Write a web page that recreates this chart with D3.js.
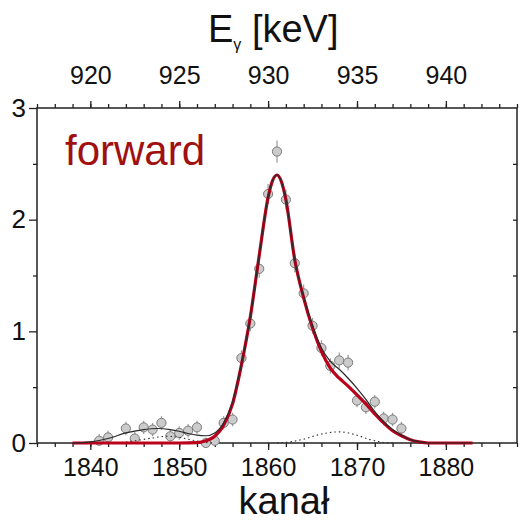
<!DOCTYPE html>
<html>
<head>
<meta charset="utf-8">
<script src="https://cdn.jsdelivr.net/npm/d3@7/dist/d3.min.js"></script>
<style>
  html, body { margin: 0; padding: 0; background: #fff; }
  svg { display: block; }
  text { font-family: "Liberation Sans", Arial, sans-serif; fill: #111; }
</style>
</head>
<body>
<svg id="chart" width="522" height="524"></svg>
<script>
// ---------- data ----------
const channels = [1841,1842,1844,1845,1846,1847,1848,1849,1850,1851,1852,1853,1854,1855,1856,1857,1858,1859,1860,1861,1862,1863,1864,1865,1866,1867,1868,1869,1870,1871,1872,1873,1874,1875];
const counts   = [0.02,0.05,0.13,0.04,0.14,0.12,0.18,0.06,0.09,0.11,0.14,0.00,0.02,0.18,0.21,0.76,1.07,1.56,2.23,2.61,2.18,1.61,1.34,1.05,0.85,0.69,0.74,0.72,0.38,0.32,0.37,0.22,0.21,0.13];
const errors   = [0.06,0.06,0.06,0.06,0.06,0.06,0.06,0.06,0.06,0.06,0.06,0.05,0.05,0.06,0.06,0.07,0.07,0.08,0.09,0.10,0.09,0.08,0.08,0.07,0.07,0.07,0.07,0.07,0.06,0.06,0.06,0.06,0.06,0.06];

// main peak fit (red)
const redX = [1838,1850,1852,1853,1854,1855,1856,1857,1858,1859,1860,1860.5,1861,1861.5,1862,1863,1864,1865,1866,1867,1868,1869,1870,1871,1872,1873,1874,1875,1876,1877,1878,1883];
const redV = [0,0,0.004,0.02,0.06,0.16,0.35,0.70,1.13,1.68,2.20,2.35,2.40,2.34,2.18,1.64,1.30,1.03,0.82,0.67,0.58,0.51,0.43,0.35,0.26,0.18,0.11,0.065,0.03,0.01,0,0];

// total fit (black)
const blackX = [1838,1840,1842,1844,1846,1847.5,1849,1850,1851,1852,1853,1854,1855,1856,1857,1858,1859,1860,1860.5,1861,1861.5,1862,1863,1864,1865,1866,1867,1868,1869,1870,1871,1872,1873,1874,1875,1876,1877,1878,1883];
const blackV = [0,0.01,0.04,0.09,0.12,0.13,0.12,0.105,0.085,0.07,0.065,0.09,0.18,0.37,0.71,1.13,1.68,2.20,2.35,2.40,2.34,2.18,1.64,1.31,1.05,0.85,0.73,0.66,0.58,0.49,0.39,0.28,0.19,0.12,0.07,0.03,0.01,0,0];

// background bump (dotted, left) and second peak (dotted, right)
const dotLX = [1843,1845,1847,1848.5,1850,1851.5,1853,1854];
const dotLV = [0,0.02,0.045,0.06,0.05,0.025,0.005,0];
const dotRX = [1861,1862.5,1864,1866,1868,1870,1871.5,1873,1874];
const dotRV = [0,0.01,0.035,0.08,0.10,0.07,0.03,0.005,0];

const bottomMajor = [1840,1850,1860,1870,1880];
const topMajor = [920,925,930,935,940];
const leftMajor = [0,1,2,3];

// ---------- layout ----------
const svg = d3.select("#chart");
const L = 37, R = 517, T = 108, B = 443;
const x = d3.scaleLinear().domain([1834, 1888]).range([L, R]);
const xE = d3.scaleLinear().domain([917, 944]).range([L, R]);
const y = d3.scaleLinear().domain([0, 3]).range([B, T]);

function styleAxis(g) {
  g.select(".domain").remove();
  g.selectAll(".tick line").attr("stroke", "#222").attr("stroke-width", 1.3);
}
// bottom
svg.append("g").attr("transform", `translate(0,${B})`)
  .call(d3.axisBottom(x).tickValues(d3.range(1834, 1889, 2)).tickSize(4).tickFormat(""))
  .call(styleAxis);
svg.append("g").attr("transform", `translate(0,${B})`)
  .call(d3.axisBottom(x).tickValues(bottomMajor).tickSize(7).tickPadding(8).tickFormat(d3.format("d")))
  .call(styleAxis)
  .call(g => g.selectAll("text").attr("font-size", 25).attr("fill", "#111"));
// top
svg.append("g").attr("transform", `translate(0,${T})`)
  .call(d3.axisTop(xE).tickValues(d3.range(917, 945, 1)).tickSize(4).tickFormat(""))
  .call(styleAxis);
svg.append("g").attr("transform", `translate(0,${T})`)
  .call(d3.axisTop(xE).tickValues(topMajor).tickSize(7).tickPadding(17).tickFormat(d3.format("d")))
  .call(styleAxis)
  .call(g => g.selectAll("text").attr("font-size", 25).attr("fill", "#111"));
// left
svg.append("g").attr("transform", `translate(${L},0)`)
  .call(d3.axisLeft(y).tickValues([0.5, 1.5, 2.5]).tickSize(4).tickFormat(""))
  .call(styleAxis);
svg.append("g").attr("transform", `translate(${L},0)`)
  .call(d3.axisLeft(y).tickValues(leftMajor).tickSize(8).tickPadding(3).tickFormat(d3.format("d")))
  .call(styleAxis)
  .call(g => g.selectAll("text").attr("font-size", 26).attr("fill", "#111"));
// right (inner ticks)
svg.append("g").attr("transform", `translate(${R},0)`)
  .call(d3.axisRight(y).tickValues(d3.range(0.5, 3, 0.5)).tickSize(-4).tickFormat(""))
  .call(styleAxis);

// frame
svg.append("rect").attr("x", L).attr("y", T).attr("width", R - L).attr("height", B - T)
  .attr("fill", "none").attr("stroke", "#222").attr("stroke-width", 1.5);

// data points
const pts = channels.map((c, i) => ({c, v: counts[i], e: errors[i]}));
svg.append("g").selectAll("line").data(pts).join("line")
  .attr("x1", d => x(d.c)).attr("x2", d => x(d.c))
  .attr("y1", d => y(d.v + d.e)).attr("y2", d => y(Math.max(0, d.v - d.e)))
  .attr("stroke", "#999").attr("stroke-width", 1.2);
svg.append("g").selectAll("circle").data(pts).join("circle")
  .attr("cx", d => x(d.c)).attr("cy", d => y(d.v)).attr("r", 4.6)
  .attr("fill", "#cbcbcb").attr("stroke", "#7a7a7a").attr("stroke-width", 1);

// curves
const line = d3.line().x(d => x(d[0])).y(d => y(d[1])).curve(d3.curveMonotoneX);
const zip = (a, b) => a.map((v, i) => [v, b[i]]);
svg.append("path").attr("d", line(zip(dotLX, dotLV)))
  .attr("fill", "none").attr("stroke", "#333").attr("stroke-width", 1.1).attr("stroke-dasharray", "1.5,3");
svg.append("path").attr("d", line(zip(dotRX, dotRV)))
  .attr("fill", "none").attr("stroke", "#333").attr("stroke-width", 1.1).attr("stroke-dasharray", "1.5,3");
svg.append("path").attr("d", line(zip(redX, redV)))
  .attr("fill", "none").attr("stroke", "#bb001c").attr("stroke-width", 3.2).attr("stroke-linejoin", "round");
svg.append("path").attr("d", line(zip(blackX, blackV)))
  .attr("fill", "none").attr("stroke", "#2a2a2a").attr("stroke-width", 1.2);

// texts
svg.append("text").attr("x", 65).attr("y", 165).attr("font-size", 42).style("fill", "#a01010").text("forward");

const title = svg.append("text").attr("x", 208).attr("y", 42).attr("font-size", 38);
title.append("tspan").text("E");
title.append("tspan").attr("font-size", 16).attr("dy", 8).text("γ");
title.append("tspan").attr("dy", -8).text(" [keV]");

svg.append("text").attr("x", 284).attr("y", 514).attr("text-anchor", "middle").attr("font-size", 38).text("kanał");
</script>
</body>
</html>
